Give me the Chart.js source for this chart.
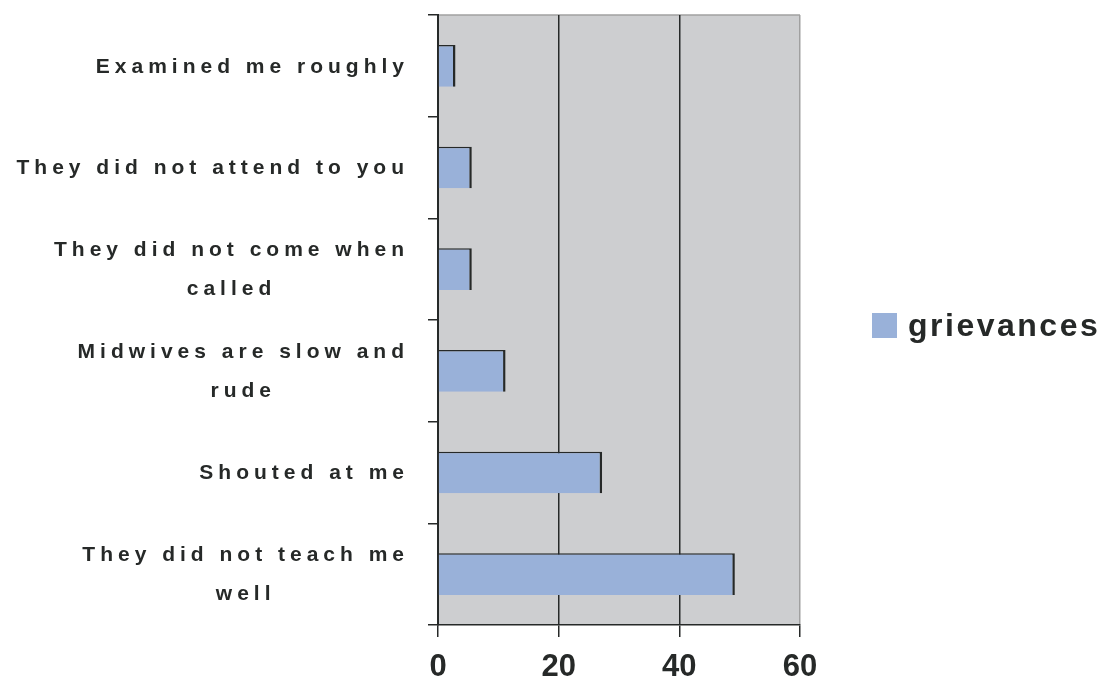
<!DOCTYPE html>
<html>
<head>
<meta charset="utf-8">
<title>grievances</title>
<script src="https://cdn.jsdelivr.net/npm/chart.js@4/dist/chart.umd.min.js"></script>
<style>
  html, body { margin: 0; padding: 0; background: #ffffff; }
  #wrap { width: 1110px; height: 695px; }
</style>
</head>
<body>
<div id="wrap"><canvas id="c" width="1110" height="695"></canvas></div>
<script>
// Category labels (multi-line where the text wraps)
const categories = [
  ["Examined me roughly"],
  ["They did not attend to you"],
  ["They did not come when", "called"],
  ["Midwives are slow and", "rude"],
  ["Shouted at me"],
  ["They did not teach me", "well"]
];
const seriesName = "grievances";
const grievances = [2.9, 5.6, 5.6, 11.2, 27.2, 49.2];
const xTicks = [0, 20, 40, 60];

const FONT = '"Liberation Sans", Arial, Helvetica, sans-serif';
const TEXT = '#262928';
const BAR = '#99b1d9';
const PLOT_BG = '#cdced0';

// Draw a string one glyph at a time with extra tracking between glyphs
function spacedWidth(ctx, text, spacing) {
  let w = 0;
  for (const ch of text) w += ctx.measureText(ch).width;
  return w + spacing * (text.length - 1);
}
function drawSpaced(ctx, text, x, y, spacing) {
  let cx = x;
  for (const ch of text) {
    ctx.fillText(ch, cx, y);
    cx += ctx.measureText(ch).width + spacing;
  }
}

// Plot background and light top edge
const plotBackground = {
  id: 'plotBackground',
  beforeDraw(chart) {
    const { ctx, chartArea: a } = chart;
    ctx.save();
    ctx.fillStyle = PLOT_BG;
    ctx.fillRect(a.left, a.top, a.right - a.left, a.bottom - a.top);
    ctx.strokeStyle = '#a0a0a0';
    ctx.lineWidth = 1.5;
    ctx.beginPath();
    ctx.moveTo(a.left, a.top);
    ctx.lineTo(a.right, a.top);
    ctx.stroke();
    ctx.restore();
  }
};

// Category labels: first line right-aligned to the axis, wrapped lines centred under it
const categoryLabels = {
  id: 'categoryLabels',
  afterDraw(chart) {
    const { ctx } = chart;
    const yScale = chart.scales.y;
    const spacing = 5.0;
    const lineGap = 39;
    const rightEdge = 404;
    ctx.save();
    ctx.font = 'bold 21px ' + FONT;
    ctx.fillStyle = TEXT;
    ctx.textAlign = 'left';
    ctx.textBaseline = 'middle';
    chart.data.labels.forEach((lines, i) => {
      const yc = yScale.getPixelForTick(i) + 1;
      const w0 = spacedWidth(ctx, lines[0], spacing);
      const center = rightEdge - w0 / 2;
      const y0 = yc - (lines.length - 1) * lineGap / 2;
      lines.forEach((line, k) => {
        const w = spacedWidth(ctx, line, spacing);
        drawSpaced(ctx, line, center - w / 2, y0 + k * lineGap, spacing);
      });
    });
    ctx.restore();
  }
};

// Series key on the right
const seriesKey = {
  id: 'seriesKey',
  afterDraw(chart) {
    const { ctx } = chart;
    const ds = chart.data.datasets[0];
    ctx.save();
    ctx.fillStyle = ds.backgroundColor;
    ctx.fillRect(872, 313, 25, 25);
    ctx.font = 'bold 32px ' + FONT;
    ctx.fillStyle = TEXT;
    ctx.textBaseline = 'alphabetic';
    drawSpaced(ctx, ds.label, 908, 336, 2.5);
    ctx.restore();
  }
};

new Chart(document.getElementById('c'), {
  type: 'bar',
  data: {
    labels: categories,
    datasets: [{
      label: seriesName,
      data: grievances,
      backgroundColor: BAR,
      borderColor: '#262928',
      borderWidth: { top: 1.5, right: 2.5, bottom: 0, left: 0 },
      borderSkipped: false,
      barPercentage: 0.41,
      categoryPercentage: 1.0
    }]
  },
  options: {
    indexAxis: 'y',
    responsive: false,
    devicePixelRatio: 1,
    animation: false,
    layout: { padding: { top: 15, right: 310, bottom: 0, left: 0 } },
    plugins: {
      legend: { display: false },
      tooltip: { enabled: false }
    },
    scales: {
      y: {
        type: 'category',
        offset: true,
        grid: {
          offset: true,
          drawOnChartArea: false,
          drawTicks: true,
          tickLength: 10,
          color: '#262928',
          tickColor: '#262928',
          lineWidth: 1.5
        },
        border: { display: true, color: '#262928', width: 2 },
        ticks: { display: false },
        afterFit(scale) { scale.width = 438; }
      },
      x: {
        type: 'linear',
        min: xTicks[0],
        max: xTicks[xTicks.length - 1],
        afterBuildTicks(scale) { scale.ticks = xTicks.map(v => ({ value: v })); },
        ticks: {
          color: TEXT,
          padding: 12,
          font: { family: FONT, size: 31, weight: 'bold' }
        },
        grid: {
          color: ctx => (ctx.tick && ctx.tick.value === xTicks[xTicks.length - 1]) ? '#a0a0a0' : '#262928',
          tickColor: '#262928',
          lineWidth: 1.5,
          tickLength: 12,
          drawTicks: true
        },
        border: { display: true, color: '#262928', width: 1.5 },
        afterFit(scale) { scale.height = 70; }
      }
    }
  },
  plugins: [plotBackground, categoryLabels, seriesKey]
});
</script>
</body>
</html>
